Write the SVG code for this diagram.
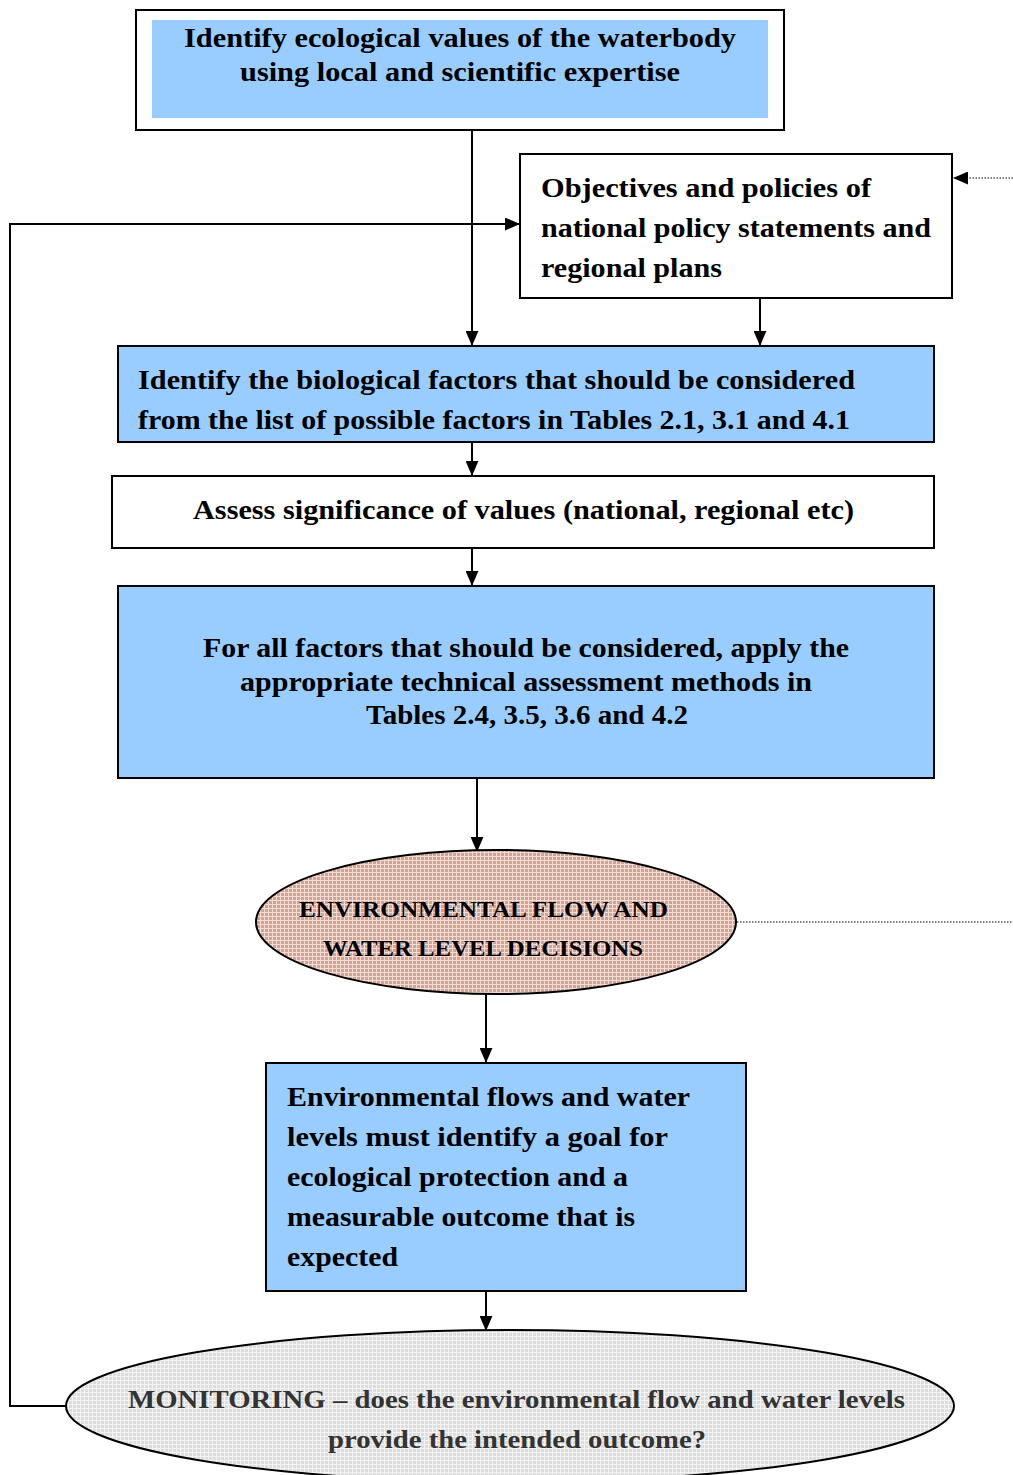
<svg xmlns="http://www.w3.org/2000/svg" width="1013" height="1475" viewBox="0 0 1013 1475">
<style>
text{font-family:"Liberation Serif","DejaVu Serif",serif;font-weight:bold;fill:#000;}
.t{font-size:27px;}
.e{font-size:24px;}
.m{font-size:26px;fill:#333;}
.box{stroke:#000;stroke-width:2;}
.blue{fill:#99CCFF;}
.white{fill:#fff;}
.ln{stroke:#000;stroke-width:2;fill:none;}
.dot{stroke:#000;stroke-width:1.2;stroke-dasharray:1.5 1.5;fill:none;}
</style>
<defs>
<marker id="a" viewBox="0 0 14 12" refX="14" refY="6" markerWidth="15" markerHeight="13" markerUnits="userSpaceOnUse" orient="auto">
<path d="M0,0 L14,6 L0,12 z" fill="#000"/>
</marker>
<pattern id="pb" width="4" height="4" patternUnits="userSpaceOnUse">
<rect width="4" height="4" fill="#D2A393"/>
<path d="M0,0.5 H4 M0.5,0 V4" stroke="#F2DCD3" stroke-width="1"/>
</pattern>
<pattern id="pg" width="4" height="4" patternUnits="userSpaceOnUse">
<rect width="4" height="4" fill="#DDDDDD"/>
<path d="M0,0.5 H4 M0.5,0 V4" stroke="#F3F3F3" stroke-width="1"/>
</pattern>
</defs>

<g id="connectors">
<line class="ln" x1="472" y1="130" x2="472" y2="346" marker-end="url(#a)"/>
<line class="ln" x1="760" y1="298" x2="760" y2="346" marker-end="url(#a)"/>
<polyline class="ln" points="66,1406 10,1406 10,224 520,224" marker-end="url(#a)"/>
<line class="dot" x1="1013" y1="178" x2="953" y2="178" marker-end="url(#a)"/>
<line class="ln" x1="472" y1="442" x2="472" y2="476" marker-end="url(#a)"/>
<line class="ln" x1="472" y1="548" x2="472" y2="586" marker-end="url(#a)"/>
<line class="ln" x1="477" y1="778" x2="477" y2="852" marker-end="url(#a)"/>
<line class="dot" x1="737" y1="922" x2="1013" y2="922"/>
<line class="ln" x1="486" y1="994" x2="486" y2="1063" marker-end="url(#a)"/>
<line class="ln" x1="486" y1="1291" x2="486" y2="1331" marker-end="url(#a)"/>
</g>

<g id="n1">
<rect class="box white" x="136" y="10" width="648" height="120"/>
<rect class="blue" x="152" y="20" width="616" height="98"/>
<text class="t" x="184" y="47" textLength="552" lengthAdjust="spacingAndGlyphs">Identify ecological values of the waterbody</text>
<text class="t" x="240" y="81" textLength="440" lengthAdjust="spacingAndGlyphs">using local and scientific expertise</text>
</g>

<g id="n2">
<rect class="box white" x="520" y="154" width="432" height="144"/>
<text class="t" x="541" y="197" textLength="330" lengthAdjust="spacingAndGlyphs">Objectives and policies of</text>
<text class="t" x="541" y="237" textLength="390" lengthAdjust="spacingAndGlyphs">national policy statements and</text>
<text class="t" x="541" y="277" textLength="181" lengthAdjust="spacingAndGlyphs">regional plans</text>
</g>

<g id="n3">
<rect class="box blue" x="118" y="346" width="816" height="96"/>
<text class="t" x="138" y="389" textLength="717" lengthAdjust="spacingAndGlyphs">Identify the biological factors that should be considered</text>
<text class="t" x="138" y="429" textLength="712" lengthAdjust="spacingAndGlyphs">from the list of possible factors in Tables 2.1, 3.1 and 4.1</text>
</g>

<g id="n4">
<rect class="box white" x="112" y="476" width="822" height="72"/>
<text class="t" x="193" y="519" textLength="661" lengthAdjust="spacingAndGlyphs">Assess significance of values (national, regional etc)</text>
</g>

<g id="n5">
<rect class="box blue" x="118" y="586" width="816" height="192"/>
<text class="t" x="203" y="657" textLength="646" lengthAdjust="spacingAndGlyphs">For all factors that should be considered, apply the</text>
<text class="t" x="240" y="691" textLength="572" lengthAdjust="spacingAndGlyphs">appropriate technical assessment methods in</text>
<text class="t" x="366" y="724" textLength="322" lengthAdjust="spacingAndGlyphs">Tables 2.4, 3.5, 3.6 and 4.2</text>
</g>

<g id="n6">
<ellipse cx="496" cy="922" rx="240" ry="72" fill="url(#pb)" stroke="#000" stroke-width="2"/>
<text class="e" x="299" y="917" textLength="369" lengthAdjust="spacingAndGlyphs">ENVIRONMENTAL FLOW AND</text>
<text class="e" x="323" y="956" textLength="320" lengthAdjust="spacingAndGlyphs">WATER LEVEL DECISIONS</text>
</g>

<g id="n7">
<rect class="box blue" x="266" y="1063" width="480" height="228"/>
<text class="t" x="287" y="1106" textLength="403" lengthAdjust="spacingAndGlyphs">Environmental flows and water</text>
<text class="t" x="287" y="1146" textLength="381" lengthAdjust="spacingAndGlyphs">levels must identify a goal for</text>
<text class="t" x="287" y="1186" textLength="341" lengthAdjust="spacingAndGlyphs">ecological protection and a</text>
<text class="t" x="287" y="1226" textLength="348" lengthAdjust="spacingAndGlyphs">measurable outcome that is</text>
<text class="t" x="287" y="1266" textLength="111" lengthAdjust="spacingAndGlyphs">expected</text>
</g>

<g id="n8">
<ellipse cx="510" cy="1406" rx="444" ry="76" fill="url(#pg)" stroke="#000" stroke-width="2"/>
<text class="m" x="128" y="1408" textLength="777" lengthAdjust="spacingAndGlyphs">MONITORING – does the environmental flow and water levels</text>
<text class="m" x="328" y="1448" textLength="378" lengthAdjust="spacingAndGlyphs">provide the intended outcome?</text>
</g>
</svg>
